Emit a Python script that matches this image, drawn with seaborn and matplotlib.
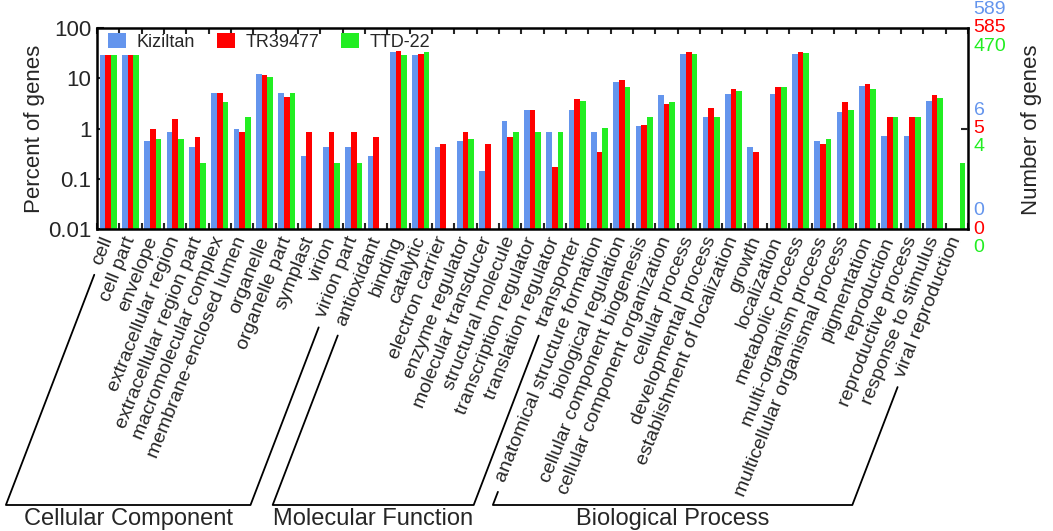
import numpy as np
import pandas as pd
import matplotlib
matplotlib.use("Agg")
import matplotlib.pyplot as plt
import seaborn as sns

# GO-термины по группам
cc_terms = ["cell", "cell part", "envelope", "extracellular region",
            "extracellular region part", "macromolecular complex",
            "membrane-enclosed lumen", "organelle", "organelle part",
            "symplast", "virion", "virion part"]
mf_terms = ["antioxidant", "binding", "catalytic", "electron carrier",
            "enzyme regulator", "molecular transducer", "structural molecule",
            "transcription regulator", "translation regulator", "transporter"]
bp_terms = ["anatomical structure formation", "biological regulation",
            "cellular component biogenesis", "cellular component organization",
            "cellular process", "developmental process",
            "establishment of localization", "growth", "localization",
            "metabolic process", "multi-organism process",
            "multicellular organismal process", "pigmentation", "reproduction",
            "reproductive process", "response to stimulus", "viral reproduction"]
group_names = ["Cellular Component", "Molecular Function", "Biological Process"]

samples = ["Kiziltan", "TR39477", "TTD-22"]
colors = ["#6495ED", "#FF0000", "#22EE22"]

# Percent of genes (NaN = нет генов)
kiziltan = [29, 29, 0.57, 0.86, 0.43, 5.15, 1.0, 12.1, 5.15, 0.28, 0.43, 0.43,
            0.29, 32.7, 28.5, 0.43, 0.57, 0.14, 1.43, 2.3, 0.84, 2.3,
            0.84, 8.3, 1.14, 4.6, 30.3, 1.72, 4.85, 0.43, 4.85, 30.3, 0.56,
            2.13, 7.1, 0.72, 0.72, 3.57, np.nan]
tr39477 = [29.5, 29.5, 1.0, 1.52, 0.69, 5.15, 0.85, 11.6, 4.23, 0.85, 0.85, 0.85,
           0.68, 35.4, 30.3, 0.50, 0.84, 0.50, 0.68, 2.37, 0.17, 3.86,
           0.34, 9.1, 1.17, 3.03, 33.6, 2.52, 6.2, 0.34, 6.6, 33.0, 0.50,
           3.36, 7.8, 1.67, 1.67, 4.7, np.nan]
ttd22 = [29, 28.5, 0.63, 0.63, 0.21, 3.36, 1.67, 10.4, 5.2, np.nan, 0.21, 0.21,
         np.nan, 29, 33.6, np.nan, 0.63, np.nan, 0.84, 0.84, 0.84, 3.57,
         1.04, 6.7, 1.67, 3.32, 29.8, 1.7, 5.65, np.nan, 6.6, 32.0, 0.63,
         2.3, 6.1, 1.67, 1.67, 3.98, 0.21]

# Правая ось: число генов (низ / 1% / верх)
right_labels = {"Kiziltan": ["0", "6", "589"],
                "TR39477": ["0", "5", "585"],
                "TTD-22": ["0", "4", "470"]}

terms = cc_terms + mf_terms + bp_terms
df = pd.DataFrame({
    "term": terms * 3,
    "sample": [s for s in samples for _ in terms],
    "pct": kiziltan + tr39477 + ttd22,
}).dropna()

sns.set_style("white")
plt.rcParams["font.family"] = ["Liberation Sans", "DejaVu Sans"]

fig = plt.figure(figsize=(10.53, 5.31), dpi=100)
ax = fig.add_axes([0.0921, 0.5687, 0.8272, 0.3786])
ax.set_yscale("log")

sns.barplot(data=df, x="term", y="pct", hue="sample", order=terms,
            hue_order=samples, palette=colors, saturation=1, width=0.76,
            errorbar=None, linewidth=0, ax=ax)

ax.set_ylim(0.01, 100)
ax.set_xlim(-0.5, len(terms) - 0.5)
ax.set_yticks([0.01, 0.1, 1, 10, 100])
ax.set_yticklabels(["0.01", "0.1", "1", "10", "100"], fontsize=16)
ax.yaxis.set_minor_locator(matplotlib.ticker.NullLocator())
ax.set_ylabel("Percent of genes", fontsize=16, labelpad=2)
ax.set_xlabel("")
ax.set_xticks(range(len(terms)))
ax.set_xticklabels(terms, rotation=68, ha="right", va="center",
                   rotation_mode="anchor", fontsize=14)
ax.tick_params(axis="x", which="major", length=0, pad=6)
ax.set_xticks(np.arange(-0.5, len(terms) + 0.5, 1), minor=True)
ax.tick_params(axis="x", which="minor", direction="in", length=4,
               width=1.5, top=True, bottom=True)
ax.tick_params(axis="y", which="major", direction="in", length=5,
               width=1.5, left=True, right=False, pad=4)
for sp in ax.spines.values():
    sp.set_linewidth(1.8)
    sp.set_color("black")

# правая ось: только одна засечка на уровне 1%
ax2 = ax.twinx()
ax2.set_yscale("log")
ax2.set_ylim(ax.get_ylim())
ax2.set_yticks([1])
ax2.set_yticklabels([""])
ax2.yaxis.set_minor_locator(matplotlib.ticker.NullLocator())
ax2.tick_params(axis="y", direction="in", length=5, width=1.5)
for sp in ax2.spines.values():
    sp.set_visible(False)

leg = ax.legend(loc="upper left", ncol=3, frameon=False, fontsize=13,
                handlelength=1.0, handleheight=0.9, columnspacing=1.2,
                handletextpad=0.6, bbox_to_anchor=(0.0, 1.03),
                borderaxespad=0.2)

# подписи правой оси (цвет на образец)
offsets = {"Kiziltan": 13, "TR39477": 0, "TTD-22": -13}
for s, c in zip(samples, colors):
    for val, lab in zip([0.01, 1, 100], right_labels[s]):
        ax.annotate(lab, xy=(1.0, val), xycoords=("axes fraction", "data"),
                    xytext=(4, offsets[s]), textcoords="offset points",
                    ha="left", va="center", color=c, fontsize=14,
                    annotation_clip=False)
fig.text(0.98, 0.755, "Number of genes", rotation=90, ha="center",
         va="center", fontsize=16)

# скобки групп под подписями
fig.canvas.draw()
renderer = fig.canvas.get_renderer()
labels = ax.get_xticklabels()
theta = np.deg2rad(69)
y_base = 531 - 505
inv = fig.transFigure.inverted()
idx = 0
for name, grp in zip(group_names, [cc_terms, mf_terms, bp_terms]):
    first = labels[idx].get_window_extent(renderer)
    last = labels[idx + len(grp) - 1].get_window_extent(renderer)
    idx += len(grp)
    xt1, yt1 = first.x0 + 5, first.y0 - 7
    xt2, yt2 = last.x0 + 5, last.y0 - 7
    xb1 = xt1 - (yt1 - y_base) / np.tan(theta)
    xb2 = xt2 - (yt2 - y_base) / np.tan(theta)
    pts = inv.transform([(xt1, yt1), (xb1, y_base), (xb2, y_base), (xt2, yt2)])
    fig.add_artist(plt.Line2D(pts[:, 0], pts[:, 1], color="black", lw=1.3))
    fig.text((pts[1, 0] + pts[2, 0]) / 2, 0.023, name, ha="center",
             va="center", fontsize=17)

fig.savefig("out.png", dpi=100)
